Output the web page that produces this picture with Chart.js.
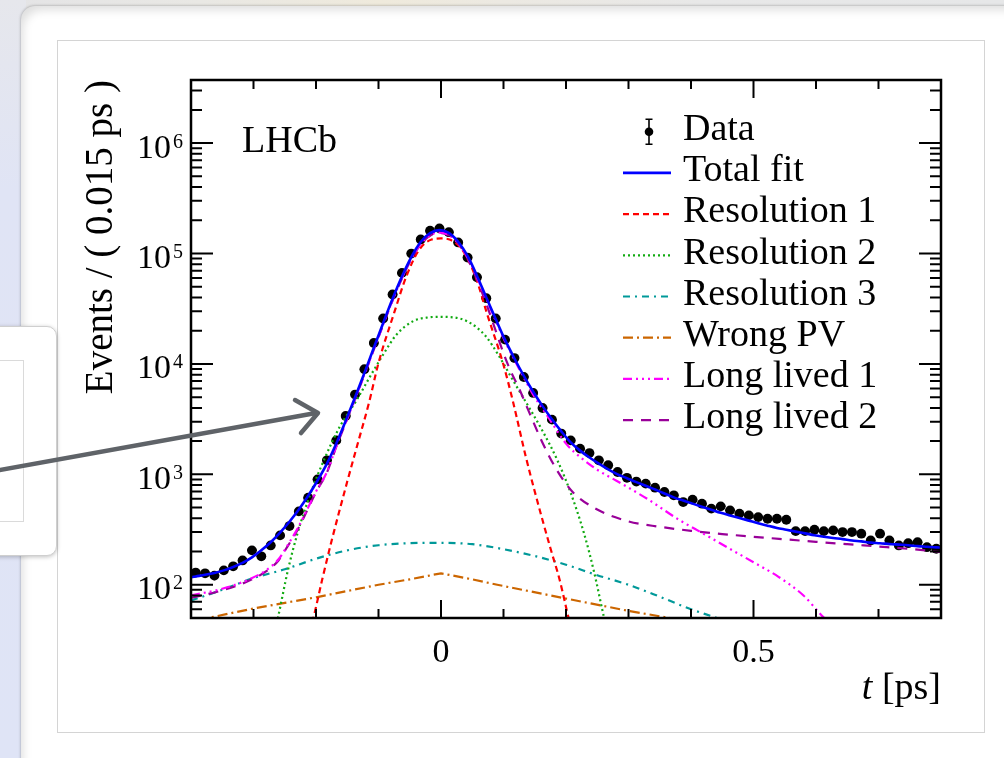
<!DOCTYPE html>
<html><head><meta charset="utf-8">
<script src="https://cdn.jsdelivr.net/npm/chart.js@4.4.1/dist/chart.umd.min.js"></script>
<style>
html,body{margin:0;padding:0;width:1004px;height:758px;overflow:hidden;background:#e6e6e8;}
#topblur{position:absolute;left:0;top:0;width:1004px;height:14px;background:linear-gradient(90deg,#e4e4e6 0%,#e9e8e4 20%,#efeadc 38%,#ece9e2 50%,#e8e8e8 70%,#e6e7e8 100%);}
#leftstrip{position:absolute;left:0;top:0;width:26px;height:758px;background:linear-gradient(180deg,#e6e7ec 0%,#e0e4f5 25%,#dfe4f6 100%);}
#panel{position:absolute;left:21px;top:6px;width:1000px;height:770px;background:#fff;border-top-left-radius:14px;box-shadow:0 0 3px rgba(0,0,0,.35), inset 7px 9px 10px -5px rgba(0,0,0,.13);}
#inner{position:absolute;left:57px;top:40px;width:926px;height:691px;border:1px solid #d4d4d4;background:#fff;}
#wrap{position:absolute;left:0;top:0;width:1004px;height:758px;}
#callout{position:absolute;left:-20px;top:326px;width:75px;height:228px;background:#fff;border:1px solid #cfcfcf;border-radius:10px;box-shadow:0 1px 4px rgba(0,0,0,.25);}
#calloutInner{position:absolute;left:-2px;top:360px;width:24px;height:160px;border:1px solid #dadada;background:#fff;}
svg#arrow{position:absolute;left:0;top:0;}
</style></head>
<body>
<div id="topblur"></div>
<div id="leftstrip"></div>
<div id="panel"></div>
<div id="inner"></div>
<div id="wrap"><canvas id="c" width="1004" height="758"></canvas></div>
<div id="callout"></div>
<div id="calloutInner"></div>
<svg id="arrow" width="1004" height="758"><g stroke="#5f6368" stroke-width="4.5" fill="none" stroke-linecap="round" stroke-linejoin="round"><line x1="-6" y1="471" x2="316" y2="413"/><polyline points="295,400 318,413 301,433"/></g></svg>
<script>
const SERIF = "'Liberation Serif','Times New Roman',serif";

// ---- data ----
const binHalfWidth = 0.0075;
const binCenters = [
-0.3925,-0.3775,-0.3625,-0.3475,-0.3325,-0.3175,-0.3025,-0.2875,-0.2725,-0.2575,
-0.2425,-0.2275,-0.2125,-0.1975,-0.1825,-0.1675,-0.1525,-0.1375,-0.1225,-0.1075,
-0.0925,-0.0775,-0.0625,-0.0475,-0.0325,-0.0175,-0.0025,0.0125,0.0275,0.0425,
0.0575,0.0725,0.0875,0.1025,0.1175,0.1325,0.1475,0.1625,0.1775,0.1925,
0.2075,0.2225,0.2375,0.2525,0.2675,0.2825,0.2975,0.3125,0.3275,0.3425,
0.3575,0.3725,0.3875,0.4025,0.4175,0.4325,0.4475,0.4625,0.4775,0.4925,
0.5075,0.5225,0.5375,0.5525,0.5675,0.5825,0.5975,0.6125,0.6275,0.6425,
0.6575,0.6725,0.6875,0.7025,0.7175,0.7325,0.7475,0.7625,0.7775,0.7925];
const dataCounts = [
129,127,121,135,147,166,205,181,227,280,
340,462,615,901,1340,2030,3380,5280,8960,15500,
25800,42600,66800,100000,134000,161000,169000,156000,126000,92000,
61000,39400,25800,16600,11300,7620,5460,3990,3130,2340,
2030,1710,1560,1340,1210,1050,930,860,824,757,
692,646,561,590,542,489,513,472,441,425,
410,396,396,388,306,306,315,306,311,300,
300,290,252,290,252,227,238,243,219,212];
const dataErrors = [
11,11,11,12,12,13,14,13,15,17,
18,21,25,30,37,45,58,73,95,124,
161,206,258,316,366,401,411,395,355,303,
247,198,161,129,106,87,74,63,56,48,
45,41,39,37,35,32,30,29,29,28,
26,25,24,24,23,22,23,22,21,21,
20,20,20,20,17,17,18,17,18,17,
17,17,16,17,16,15,15,16,15,15];

const totalFitT = [-0.4].concat(binCenters, [0.8]);
const totalFit = [117,
119,123,128,135,145,158,177,205,243,297,
372,480,640,880,1250,1900,3050,5000,8300,14000,
23500,39000,62000,93000,127000,153000,163000,154000,128000,95000,
63000,40000,25500,16500,11200,7800,5600,4150,3150,2450,
1950,1640,1420,1250,1110,1000,923,851,789,728,
671,619,580,543,509,478,448,424,402,381,
361,343,327,315,303,292,281,272,265,259,
252,247,241,238,234,231,228,224,221,218,
217];

const res1T = [-0.22,-0.205,-0.19,-0.175,-0.15,-0.135,-0.115,-0.1,-0.075,-0.055,-0.035,-0.015,0,0.015,0.035,0.055,0.075,0.1,0.115,0.135,0.15,0.175,0.19,0.205,0.22];
const res1 = [25,48,112,250,860,1750,4500,10200,29000,63000,108000,134000,137000,133000,106000,62000,27000,9800,4600,1500,700,215,110,48,25];

const res2T = [-0.28,-0.261,-0.245,-0.229,-0.2075,-0.186,-0.162,-0.135,-0.114,-0.092,-0.071,-0.044,-0.02,0,0.02,0.044,0.071,0.092,0.114,0.135,0.162,0.186,0.2075,0.229,0.245,0.261,0.28];
const res2 = [18,50,135,300,700,1400,2700,4700,7600,12300,18500,24500,26400,26700,26400,24000,18000,12000,7300,4600,2500,1350,680,290,130,50,18];

const res3T = [-0.4,-0.35,-0.3,-0.25,-0.2,-0.15,-0.1,-0.05,0,0.05,0.1,0.15,0.2,0.25,0.3,0.35,0.4,0.45,0.5];
const res3 = [72,90,115,138,172,205,228,238,240,233,210,182,152,122,100,78,60,48,36];

const wrongPVT = [-0.42,-0.373,-0.3,-0.2,-0.1,-0.05,0,0.05,0.09,0.2,0.3,0.366,0.42];
const wrongPV = [44,50,61,77,100,112,127,112,100,75,58,50,43];

const long1T = [-0.4,-0.35,-0.31,-0.28,-0.26,-0.245,-0.23,-0.215,-0.2,-0.1825,-0.1675,-0.1525,-0.1375,-0.1225,-0.1075,-0.0925,-0.0775,-0.0625,-0.0475,-0.0325,-0.0175,-0.0025,0.0125,0.0275,0.0425,0.0575,0.0725,0.0875,0.1025,0.1175,0.1325,0.15,0.17,0.2,0.225,0.25,0.28,0.33,0.38,0.42,0.46,0.5,0.54,0.58,0.61,0.64];
const long1 = [80,92,110,135,170,230,320,470,700,1050,1800,2950,4850,8050,13600,22800,37800,60000,90000,122000,146000,155000,147000,124000,92000,61000,38800,24700,16000,10900,7500,5000,3400,1900,1400,1100,880,600,390,290,215,160,118,80,52,36];

const long2T = [-0.4,-0.35,-0.31,-0.28,-0.26,-0.245,-0.23,-0.215,-0.2,-0.1825,-0.1675,-0.1525,-0.1375,-0.1225,-0.1075,-0.0925,-0.0775,-0.0625,-0.0475,-0.0325,-0.0175,-0.0025,0.0125,0.0275,0.0425,0.0575,0.0725,0.0875,0.1,0.11,0.126,0.142,0.163,0.186,0.211,0.25,0.3,0.35,0.4,0.45,0.5,0.55,0.6,0.65,0.7,0.75,0.8];
const long2 = [76,89,107,132,166,225,310,460,690,1040,1780,2920,4800,8000,13500,22600,37500,59500,89000,121000,145000,154000,146000,123000,90000,58000,35000,20000,12500,9000,5800,3550,1900,1080,690,480,375,335,308,288,272,258,245,233,222,211,198];

const xTickValues = [0, 0.5];
const xTickLabels = ['0', '0.5'];
const xMinorTicks = [-0.3,-0.2,-0.1,0.1,0.2,0.3,0.4,0.6,0.7];
const yTickValues = [1e2, 1e3, 1e4, 1e5, 1e6];
const yTickExponents = ['2','3','4','5','6'];

const pts = (xs, ys) => xs.map((x, i) => ({x: x, y: ys[i]}));
const lineDs = (label, xs, ys, color, dash, width, order, tension) => ({
  label, data: pts(xs, ys), borderColor: color, backgroundColor: color,
  borderDash: dash, borderWidth: width, pointRadius: 0, fill: false,
  cubicInterpolationMode: tension ? 'monotone' : 'default', tension: 0,
  borderCapStyle: 'butt', clip: 0, order
});

const datasets = [
  {label:'Data', data: pts(binCenters, dataCounts), showLine:false, pointRadius:4.9,
   pointBackgroundColor:'#000', pointBorderColor:'#000', pointBorderWidth:0, clip:0, order:9},
  lineDs('Total fit', totalFitT, totalFit, '#0000ff', [], 2.6, 0, true),
  lineDs('Resolution 1', res1T, res1, '#ff0000', [6,4], 2.2, 3, true),
  lineDs('Resolution 2', res2T, res2, '#11aa11', [2,3], 2.2, 4, true),
  lineDs('Resolution 3', res3T, res3, '#009999', [7,5,2,5], 2.2, 5, true),
  lineDs('Wrong PV', wrongPVT, wrongPV, '#cc6600', [10,4,2,4], 2.2, 6, false),
  lineDs('Long lived 1', long1T, long1, '#ff00ff', [9,4,2,4,2,4,2,4], 2.2, 1, true),
  lineDs('Long lived 2', long2T, long2, '#990099', [10,8], 2.2, 2, true)
];

const rootPlugin = {
  id: 'rootStyle',
  beforeDatasetDraw(chart, args) {
    const ds = chart.data.datasets[args.index];
    if (ds.label !== 'Data') return;
    const ctx = chart.ctx, xs = chart.scales.x, ys = chart.scales.y, a = chart.chartArea;
    ctx.save();
    ctx.beginPath(); ctx.rect(a.left, a.top, a.right - a.left, a.bottom - a.top); ctx.clip();
    ctx.strokeStyle = '#000'; ctx.lineWidth = 2;
    binCenters.forEach((t, i) => {
      const v = dataCounts[i], e = dataErrors[i];
      const px = xs.getPixelForValue(t), py = ys.getPixelForValue(v);
      ctx.beginPath();
      ctx.moveTo(px, ys.getPixelForValue(v + e)); ctx.lineTo(px, ys.getPixelForValue(v - e));
      ctx.moveTo(xs.getPixelForValue(t - binHalfWidth), py); ctx.lineTo(xs.getPixelForValue(t + binHalfWidth), py);
      ctx.stroke();
    });
    ctx.restore();
  },
  afterDraw(chart) {
    const ctx = chart.ctx, xs = chart.scales.x, ys = chart.scales.y, a = chart.chartArea;
    ctx.save();
    ctx.strokeStyle = '#000'; ctx.lineWidth = 2; ctx.setLineDash([]);
    const xt = (v, len) => {
      const px = xs.getPixelForValue(v);
      ctx.beginPath();
      ctx.moveTo(px, a.bottom); ctx.lineTo(px, a.bottom - len);
      ctx.moveTo(px, a.top); ctx.lineTo(px, a.top + len);
      ctx.stroke();
    };
    xMinorTicks.forEach(v => xt(v, 9));
    xTickValues.forEach(v => xt(v, 18));
    const yt = (v, len) => {
      const py = ys.getPixelForValue(v);
      ctx.beginPath();
      ctx.moveTo(a.left, py); ctx.lineTo(a.left + len, py);
      ctx.moveTo(a.right, py); ctx.lineTo(a.right - len, py);
      ctx.stroke();
    };
    for (let k = 1; k <= 6; k++) {
      for (let m = 2; m <= 9; m++) {
        const v = m * Math.pow(10, k);
        if (v > ys.min * 1.01 && v < ys.max) yt(v, 11);
      }
    }
    yTickValues.forEach(v => yt(v, 22));
    ctx.lineWidth = 2.5;
    ctx.strokeRect(a.left, a.top, a.right - a.left, a.bottom - a.top);

    ctx.fillStyle = '#000';
    ctx.textAlign = 'right'; ctx.textBaseline = 'alphabetic';
    yTickValues.forEach((v, i) => {
      const py = ys.getPixelForValue(v);
      ctx.font = `20px ${SERIF}`;
      const ew = ctx.measureText(yTickExponents[i]).width;
      ctx.fillText(yTickExponents[i], 183, py + 4.5);
      ctx.font = `34px ${SERIF}`;
      ctx.fillText('10', 183 - ew - 2, py + 14.5);
    });

    ctx.font = `38px ${SERIF}`;
    const w2 = ctx.measureText(' [ps]').width;
    ctx.fillText(' [ps]', a.right, 699);
    ctx.font = `italic 38px ${SERIF}`;
    ctx.fillText('t', a.right - w2, 699);

    ctx.textAlign = 'left';
    ctx.font = `38px ${SERIF}`;
    ctx.fillText('LHCb', 242, 152);

    const B0 = 140, DY = 41.2, LX0 = 623, LX1 = 671, TX = 683;
    chart.data.datasets.forEach((ds, k) => {
      const base = B0 + k * DY, cy = base - 8.3;
      if (ds.label === 'Data') {
        ctx.setLineDash([]); ctx.lineWidth = 1.6; ctx.strokeStyle = '#000';
        ctx.beginPath();
        ctx.moveTo(649, cy - 12.5); ctx.lineTo(649, cy + 12.5);
        ctx.moveTo(645.5, cy - 12.5); ctx.lineTo(652.5, cy - 12.5);
        ctx.moveTo(645.5, cy + 12.5); ctx.lineTo(652.5, cy + 12.5);
        ctx.stroke();
        ctx.beginPath(); ctx.arc(649, cy, 4.3, 0, Math.PI * 2); ctx.fillStyle = '#000'; ctx.fill();
      } else {
        ctx.setLineDash(ds.borderDash || []); ctx.lineWidth = ds.borderWidth; ctx.strokeStyle = ds.borderColor;
        ctx.lineCap = 'butt';
        ctx.beginPath(); ctx.moveTo(LX0, cy); ctx.lineTo(LX1, cy); ctx.stroke();
      }
      ctx.setLineDash([]);
      ctx.fillStyle = '#000'; ctx.font = `38px ${SERIF}`; ctx.textAlign = 'left';
      ctx.fillText(ds.label, TX, base);
    });
    ctx.restore();
  }
};

new Chart(document.getElementById('c').getContext('2d'), {
  type: 'line',
  data: { datasets },
  options: {
    responsive: false, animation: false, devicePixelRatio: 1, events: [],
    layout: { padding: { left: 0, right: 63, top: 80, bottom: 0 } },
    plugins: { legend: { display: false }, tooltip: { enabled: false } },
    scales: {
      x: {
        type: 'linear', position: 'bottom', min: -0.4, max: 0.8,
        grid: { display: false }, border: { display: false },
        afterBuildTicks: (s) => { s.ticks = xTickValues.map(v => ({ value: v })); },
        afterFit: (s) => { s.height = 140; },
        ticks: {
          autoSkip: false, maxRotation: 0, minRotation: 0, padding: 7, color: '#000',
          font: { family: SERIF, size: 34 },
          callback: (v) => { const k = xTickValues.indexOf(v); return k >= 0 ? xTickLabels[k] : ''; }
        }
      },
      y: {
        type: 'logarithmic', position: 'left', min: 50, max: 3.73e6,
        grid: { display: false }, border: { display: false },
        ticks: { display: false },
        afterFit: (s) => { s.width = 191; },
        title: {
          display: true, text: 'Events / ( 0.015 ps )', align: 'end', color: '#000',
          font: { family: SERIF, size: 39 }, padding: { top: 78, bottom: 0 }
        }
      }
    }
  },
  plugins: [rootPlugin]
});
</script>
</body></html>
